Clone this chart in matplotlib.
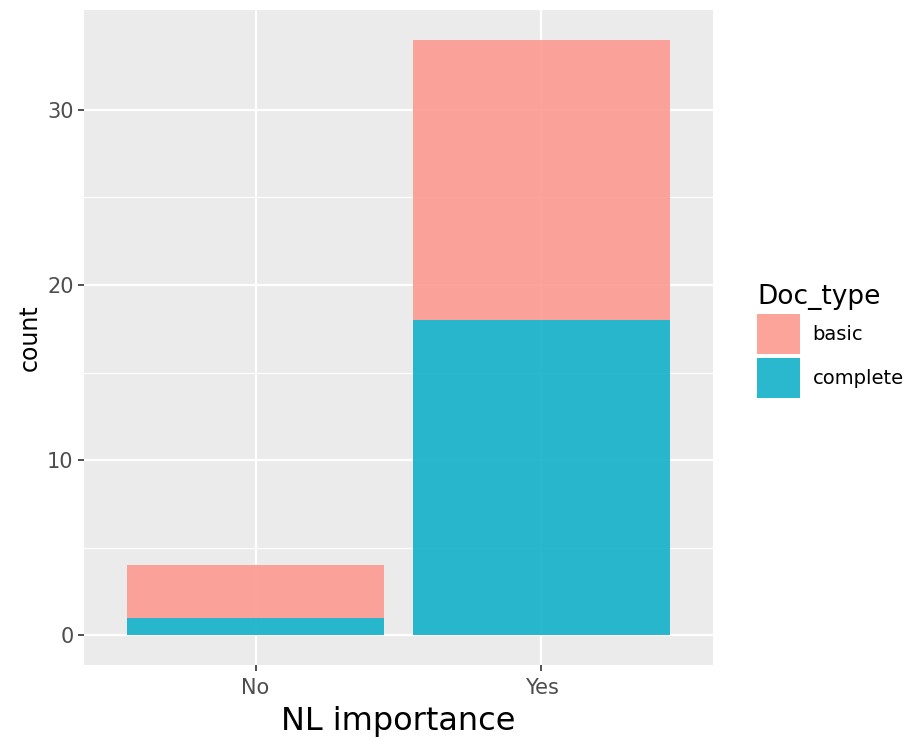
import numpy as np
import matplotlib.pyplot as plt
from matplotlib.patches import Patch

# data
categories = ["No", "Yes"]
complete = [1, 18]
basic = [3, 16]
doc_types = ["basic", "complete"]
colors = {"basic": "#FC9C92", "complete": "#16B2CA"}

fig = plt.figure(figsize=(9.09, 7.39), dpi=100)
ax = fig.add_axes([0.0924, 0.1001, 0.692, 0.8864])
ax.set_facecolor("#EBEBEB")

x = np.arange(len(categories)) + 1
ax.bar(x, complete, width=0.9, color=colors["complete"], alpha=0.92, zorder=3)
ax.bar(x, basic, width=0.9, bottom=complete, color=colors["basic"], alpha=0.92, zorder=3)

total_max = max(np.array(complete) + np.array(basic))
ax.set_xlim(0.4, 2.6)
ax.set_ylim(-0.05 * total_max, total_max * 1.05)
ax.set_xticks(x)
ax.set_xticklabels(categories)
ax.set_yticks([0, 10, 20, 30])
ax.set_yticks([5, 15, 25], minor=True)

ax.grid(True, which="major", color="white", linewidth=1.6, zorder=1)
ax.grid(True, which="minor", axis="y", color="white", linewidth=0.8, zorder=1)
ax.set_axisbelow(True)
for s in ax.spines.values():
    s.set_visible(False)
ax.tick_params(which="major", length=4, width=1.2, color="#333333", labelcolor="#4D4D4D", labelsize=15)
ax.tick_params(axis="x", pad=5)
ax.tick_params(which="minor", length=0)

ax.set_ylabel("count", fontsize=17, labelpad=4)
ax.set_xlabel("NL importance", fontsize=23, labelpad=6)

handles = [Patch(facecolor=colors[d], alpha=0.92, edgecolor="none") for d in doc_types]
leg = fig.legend(handles, doc_types, title="Doc_type", loc="upper left",
                 bbox_to_anchor=(0.833, 0.616), frameon=False, fontsize=14,
                 title_fontsize=19, handlelength=2.2, handleheight=2.8,
                 handletextpad=0.65, labelspacing=0.2, borderpad=0,
                 borderaxespad=0)
leg._legend_box.align = "left"

fig.savefig("out.png", dpi=100)
